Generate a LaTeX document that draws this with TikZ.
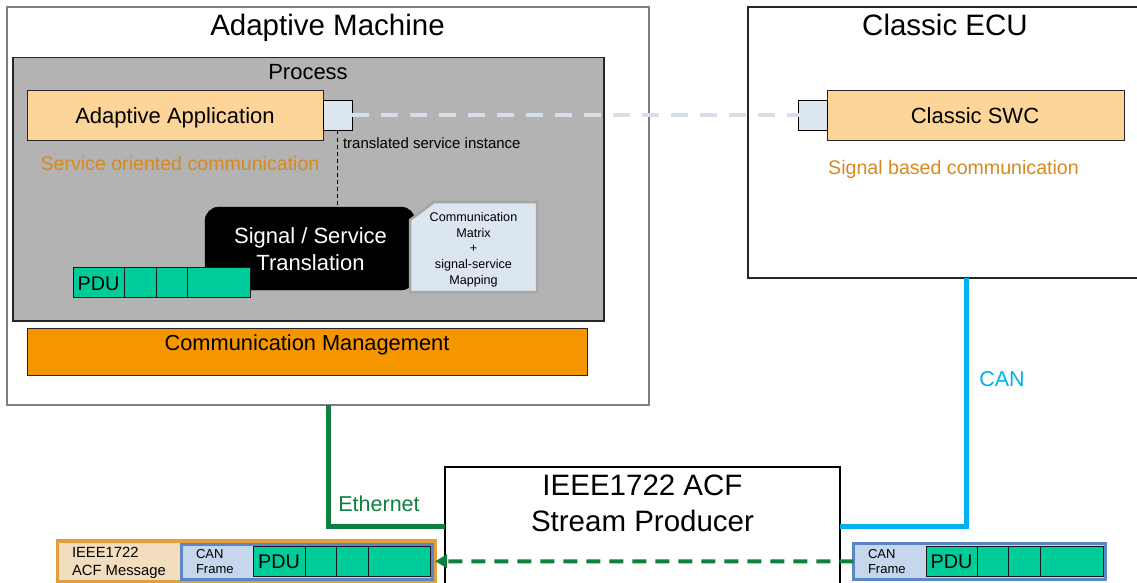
\documentclass[tikz,border=0pt]{standalone}
\usepackage{fontspec}
\setmainfont{Liberation Sans}
\usetikzlibrary{arrows.meta}
\definecolor{appfill}{HTML}{FDD598}
\definecolor{portfill}{HTML}{DCE6F1}
\definecolor{procfill}{HTML}{B3B3B3}
\definecolor{orangetxt}{HTML}{D68A1E}
\definecolor{mgmtfill}{HTML}{F59500}
\definecolor{pdufill}{HTML}{00CC99}
\definecolor{canblue}{HTML}{00B0F0}
\definecolor{ethgreen}{HTML}{0E8040}
\definecolor{svcdash}{HTML}{D6DFE9}
\definecolor{matrixedge}{HTML}{A6A6A6}
\definecolor{msgfill}{HTML}{F3DDBF}
\definecolor{msgedge}{HTML}{E2A03C}
\definecolor{framefill}{HTML}{C6D6EC}
\definecolor{frameedge}{HTML}{5B87C4}
\definecolor{edgegray}{HTML}{7F7F7F}
\definecolor{edgedark}{HTML}{262626}
\newcommand\fsz[2]{\fontsize{#1}{#2}\selectfont}
\tikzset{
  box/.style={draw, inner sep=0pt, outer sep=0pt, anchor=north west},
  swbox/.style={box, fill=appfill, draw=edgedark, line width=1pt},
  portbox/.style={box, fill=portfill, draw=black, line width=1pt, minimum width=29pt, minimum height=30pt},
  cell/.style={box, fill=pdufill, draw=black!90, line width=1pt},
  framebox/.style={box, fill=framefill, draw=frameedge, line width=3pt},
  txt/.style={inner sep=0pt, outer sep=0pt, anchor=base},
  ltxt/.style={inner sep=0pt, outer sep=0pt, anchor=base west},
  title/.style={txt, font=\fsz{29.5}{36.7}},
  midtxt/.style={txt, font=\fsz{22}{26}},
  orangenote/.style={txt, font=\fsz{19.6}{24}, text=orangetxt},
  pdutxt/.style={txt, font=\fsz{19.8}{24}},
  smalltxt/.style={ltxt, font=\fsz{13}{16}},
  wire/.style={line width=5pt},
}
\begin{document}
\begin{tikzpicture}[x=1pt,y=-1pt]
\useasboundingbox (0,0) rectangle (1137,583);

% ---------------- Adaptive Machine ----------------
\node[box, draw=edgegray, line width=1.2pt, minimum width=642pt, minimum height=398pt] (am) at (7,7) {};
\node[title] (amtitle) at (327.5,36) {Adaptive Machine};

\node[box, fill=procfill, draw=edgedark, line width=1.3pt, minimum width=591pt, minimum height=263.5pt] (proc) at (13,57.5) {};
\node[midtxt] (proctitle) at (308,80) {Process};

\node[swbox, minimum width=296pt, minimum height=49pt] (app) at (27,91) {};
\node[midtxt] (apptxt) at (175,124) {Adaptive Application};
\node[portbox] (appport) at (323,100.5) {};

\node[orangenote] (soc) at (180,170) {Service oriented communication};
\node[ltxt, font=\fsz{15}{18}] (tsi) at (343,148) {translated service instance};

\node[box, fill=black, rounded corners=14pt, minimum width=210pt, minimum height=83pt] (trans) at (205,207) {};
\node[midtxt, text=white] (trans1) at (310.5,243.3) {Signal / Service};
\node[midtxt, text=white] (trans2) at (310.5,270) {Translation};

\draw[black, line width=1pt, dash pattern=on 4pt off 3pt] (appport.south) -- (appport.south |- trans.north);

% communication matrix (snipped corner)
\filldraw[fill=portfill, draw=matrixedge, line width=2.5pt]
  (410,220) -- (434,202) -- (537,202) -- (537,292) -- (410,292) -- cycle;
\node[inner sep=0pt, align=center, font=\fsz{12.6}{15.7}] (matrix) at (473.5,249.5)
  {Communication\\Matrix\\+\\signal-service\\Mapping};

% PDU strip in process
\node[cell, minimum width=51pt, minimum height=30pt] (pc1) at (73,267.5) {};
\node[cell, minimum width=32pt, minimum height=30pt] (pc2) at (124,267.5) {};
\node[cell, minimum width=31.5pt, minimum height=30pt] (pc3) at (156,267.5) {};
\node[cell, minimum width=62.5pt, minimum height=30pt] (pc4) at (187.5,267.5) {};
\node[pdutxt] (pdutxt1) at (98.5,290) {PDU};

% Communication Management
\node[box, fill=mgmtfill, draw=edgedark, line width=1pt, minimum width=560pt, minimum height=46.5pt] (mgmt) at (27,328.5) {};
\node[txt, font=\fsz{21.8}{26}] (mgmttxt) at (307,350) {Communication Management};

% ---------------- Classic ECU ----------------
\node[box, draw=edgedark, line width=1.3pt, minimum width=395pt, minimum height=271pt] (ecu) at (748,7) {};
\node[title] (ecutitle) at (945,36) {Classic ECU};
\node[swbox, minimum width=297pt, minimum height=49pt] (swc) at (827,91) {};
\node[midtxt] (swctxt) at (975,123.5) {Classic SWC};
\node[portbox] (swcport) at (798.5,100.5) {};
\node[orangenote] (sbc) at (953.5,174.5) {Signal based communication};

% service-level dashed link
\draw[svcdash, line width=4pt, dash pattern=on 17pt off 12pt] (appport.east) -- (swcport.west);

% ---------------- Stream Producer ----------------
\node[box, draw=black, line width=1.2pt, minimum width=395pt, minimum height=118pt] (producer) at (445,467) {};
\node[title] (prod1) at (642.5,495) {IEEE1722 ACF};
\node[title] (prod2) at (642.5,531.7) {Stream Producer};

\coordinate (ethtop) at (328,405);
\coordinate (cantop) at (966,278);
\draw[wire, ethgreen] (ethtop) |- (producer.west);
\draw[wire, canblue] (cantop) |- (producer.east);
\node[txt, font=\fsz{21.5}{26}, text=ethgreen] (ethlbl) at (379,511) {Ethernet};
\node[txt, font=\fsz{21.5}{26}, text=canblue] (canlbl) at (1002,386) {CAN};

% ---------------- bottom left: ACF message ----------------
\node[box, fill=msgfill, draw=msgedge, line width=3.3pt, minimum width=377.5pt, minimum height=40.5pt] (lmsg) at (57.5,541) {};
\node[ltxt, font=\fsz{14.8}{18}] (acf1) at (72,557) {IEEE1722};
\node[ltxt, font=\fsz{14.8}{18}] (acf2) at (72,575) {ACF Message};
\node[framebox, minimum width=250.3pt, minimum height=35pt] (lframe) at (181.7,544) {};
\node[smalltxt] (lcan1) at (196,558) {CAN};
\node[smalltxt] (lcan2) at (196,573.5) {Frame};
\node[cell, minimum width=51.7pt, minimum height=30.7pt] (lc1) at (253.3,546) {};
\node[cell, minimum width=31pt, minimum height=30.7pt] (lc2) at (305,546) {};
\node[cell, minimum width=32.3pt, minimum height=30.7pt] (lc3) at (336,546) {};
\node[cell, minimum width=62.4pt, minimum height=30.7pt] (lc4) at (368.3,546) {};
\node[pdutxt] (lpdu) at (279,568.3) {PDU};

% ---------------- bottom right: CAN frame ----------------
\node[framebox, minimum width=251.7pt, minimum height=36pt] (rframe) at (853.3,543.3) {};
\node[smalltxt] (rcan1) at (868,558) {CAN};
\node[smalltxt] (rcan2) at (868,573.3) {Frame};
\node[cell, minimum width=51pt, minimum height=30.7pt] (rc1) at (926,546) {};
\node[cell, minimum width=31.7pt, minimum height=30.7pt] (rc2) at (977,546) {};
\node[cell, minimum width=31.6pt, minimum height=30.7pt] (rc3) at (1008.7,546) {};
\node[cell, minimum width=63.4pt, minimum height=30.7pt] (rc4) at (1040.3,546) {};
\node[pdutxt] (rpdu) at (951.5,568.3) {PDU};

% dashed green transfer arrow
\draw[ethgreen, line width=4pt, dash pattern=on 14pt off 9pt, -{Triangle[length=12pt,width=13pt]}] (rframe.west) -- (lmsg.east);
\end{tikzpicture}
\end{document}
